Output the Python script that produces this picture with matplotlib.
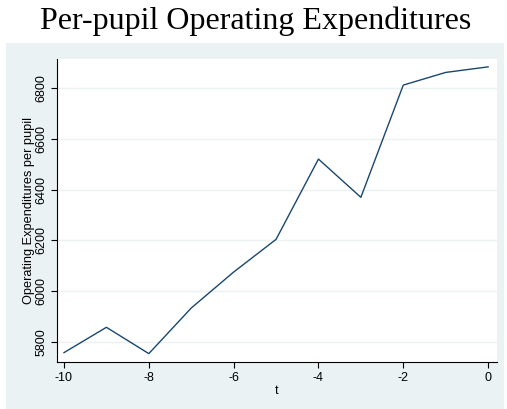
import matplotlib
matplotlib.use("Agg")
import matplotlib.pyplot as plt
from matplotlib.patches import Rectangle

# values
t = [-10, -9, -8, -7, -6, -5, -4, -3, -2, -1, 0]
spend = [5757, 5857, 5753, 5933, 6075, 6204, 6521, 6370, 6813, 6863, 6885]
xticks = [-10, -8, -6, -4, -2, 0]
yticks = [5800, 6000, 6200, 6400, 6600, 6800]

panel = "#EAF2F3"
line_col = "#1A476F"

fig = plt.figure(figsize=(5.07, 4.09), dpi=100)
fig.patches.append(Rectangle((6 / 507, 0), 498 / 507, 366 / 409,
                             transform=fig.transFigure, facecolor=panel,
                             edgecolor="none", zorder=-10))

ax = fig.add_axes([57 / 507, 1 - 362 / 409, 440 / 507, 303 / 409])
ax.set_zorder(5)
ax.set_facecolor("white")
ax.plot(t, spend, color=line_col, lw=1.0)

ax.set_xlim(-10.165, 0.21)
ax.set_ylim(5720, 6916)
ax.set_xticks(xticks)
ax.set_yticks(yticks)
ax.set_xticklabels([str(v) for v in xticks], fontsize=9, family="Liberation Sans")
ax.set_yticklabels([str(v) for v in yticks], fontsize=9, family="Liberation Sans",
                   rotation=90, va="center")
ax.grid(axis="y", color=panel, lw=1.0)
ax.set_axisbelow(True)

for s in ["top", "right"]:
    ax.spines[s].set_visible(False)
ax.spines["left"].set_color("black")
ax.spines["bottom"].set_color("black")
ax.tick_params(direction="out", length=4, width=0.8, pad=3)

ax.set_xlabel("t", fontsize=9, family="Liberation Sans", labelpad=1)
ax.set_ylabel("Operating Expenditures per pupil", fontsize=9.2,
              family="Liberation Sans", labelpad=0)

fig.text(256 / 507, 1 - 21 / 409, "Per-pupil Operating Expenditures",
         ha="center", va="center", fontsize=23, family="Liberation Serif")

fig.savefig("out.png", dpi=100)
